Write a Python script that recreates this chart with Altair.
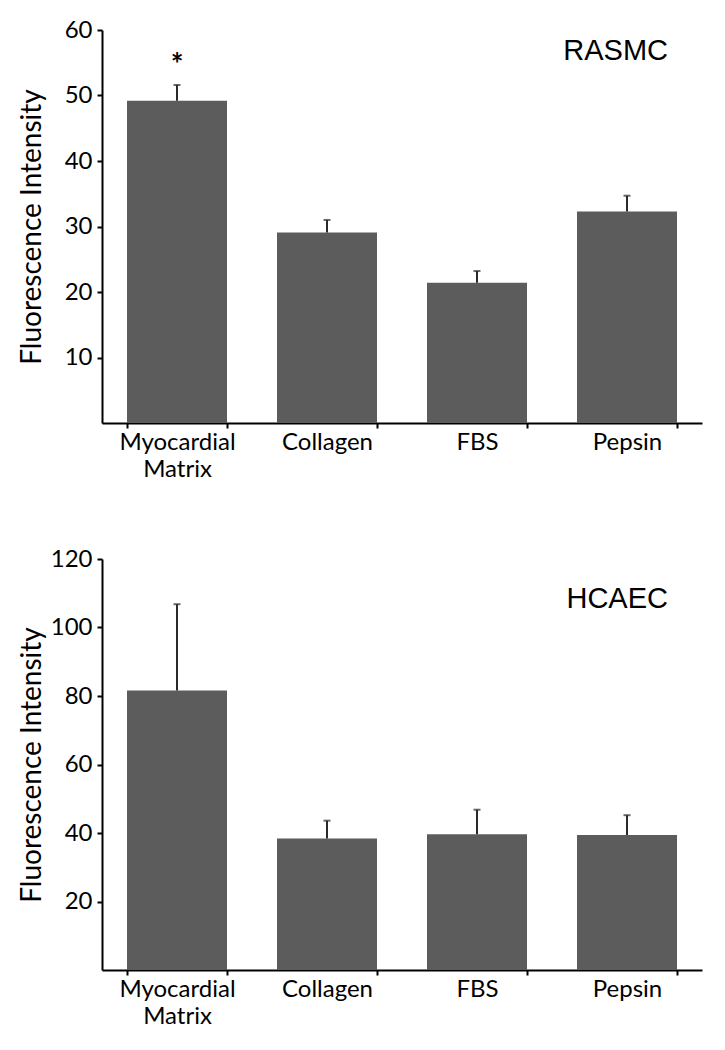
import altair as alt
import pandas as pd

categories = ["Myocardial Matrix", "Collagen", "FBS", "Pepsin"]
rasmc_mean = [49.2, 29.1, 21.4, 32.3]
rasmc_sem = [2.4, 1.9, 1.8, 2.4]
rasmc_sig = ["*", "", "", ""]
hcaec_mean = [81.6, 38.4, 39.6, 39.4]
hcaec_sem = [25.2, 5.2, 7.2, 5.8]
hcaec_sig = ["", "", "", ""]

rasmc_ticks = [10, 20, 30, 40, 50, 60]
hcaec_ticks = [20, 40, 60, 80, 100, 120]

BAR = "#5c5c5c"
ERR = "#2a2a2a"
FONT = "Lato"


def panel(mean, sem, sig, ymax, ticks, name, height, name_y):
    df = pd.DataFrame({
        "cat": categories,
        "mean": mean,
        "upper": [m + s for m, s in zip(mean, sem)],
        "sig": sig,
    })
    x = alt.X(
        "cat:N",
        sort=categories,
        scale=alt.Scale(paddingInner=1 / 3, paddingOuter=1 / 6),
        axis=alt.Axis(
            title=None,
            labelAngle=0,
            tickBand="extent",
            labelExpr="datum.value == 'Myocardial Matrix' ? ['Myocardial', 'Matrix'] : datum.label",
            labelPadding=2,
            labelLineHeight=27,
            labelBaseline="top",
        ),
    )
    yscale = alt.Scale(domain=[0, ymax], nice=False)
    y = alt.Y(
        "mean:Q",
        scale=yscale,
        axis=alt.Axis(
            title="Fluorescence Intensity",
            values=ticks,
            grid=False,
            titleX=-56,
            titleY=height / 2,
            titleFont=FONT,
            titleFontSize=28,
            titleFontWeight="normal",
            titleColor="black",
            labelPadding=5,
        ),
    )
    base = alt.Chart(df)
    bars = base.mark_bar(color=BAR).encode(x=x, y=y)
    rule = base.mark_rule(color=ERR, strokeWidth=2).encode(
        x=alt.X("cat:N", sort=categories), y="mean:Q", y2="upper:Q"
    )
    cap = base.mark_tick(color=ERR, size=7, thickness=2, orient="horizontal").encode(
        x=alt.X("cat:N", sort=categories), y="upper:Q"
    )
    star = base.mark_text(
        font=FONT, fontSize=30, fontWeight="bold", color="black", dy=-19
    ).encode(x=alt.X("cat:N", sort=categories), y="upper:Q", text="sig:N")
    label = alt.Chart(pd.DataFrame({"t": [name]})).mark_text(
        font="Liberation Sans", fontSize=29, color="black", align="right", baseline="middle"
    ).encode(x=alt.value(566), y=alt.value(name_y), text="t:N")
    return alt.layer(bars, rule, cap, star, label).properties(width=600, height=height)


top = panel(rasmc_mean, rasmc_sem, rasmc_sig, 60, rasmc_ticks, "RASMC", 393, 21)
bottom = panel(hcaec_mean, hcaec_sem, hcaec_sig, 120, hcaec_ticks, "HCAEC", 411, 40)

chart = (
    alt.vconcat(top, bottom, spacing=66)
    .properties(padding={"top": 10, "left": 10, "right": 5, "bottom": 5}, background="white")
    .configure_view(stroke=None)
    .configure_axis(
        domainColor="black",
        domainWidth=2,
        tickColor="black",
        tickWidth=2,
        tickSize=5,
        labelFont=FONT,
        labelFontSize=24,
        labelColor="black",
    )
)

chart.save("out.html", embed_options={"renderer": "svg", "actions": False})
